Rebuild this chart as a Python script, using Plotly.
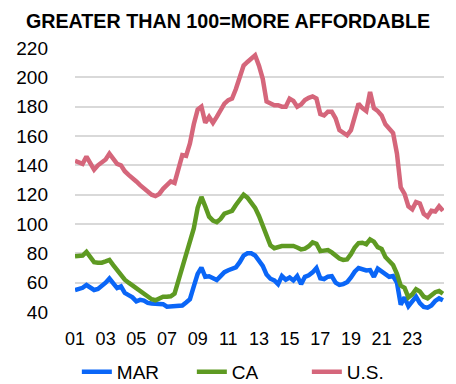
import pandas as pd
import plotly.graph_objects as go

# Quarterly housing affordability index, 2001 Q1 - 2025 Q1
quarters = pd.date_range("2001-01-01", periods=97, freq="QS")

mar = [55, 55.5, 56.5, 58.4, 57, 55, 55.7, 57.4, 60, 62.8,
       59.5, 56.3, 57.5, 53, 51.5, 50, 47.3, 48.3, 47.8, 46.2,
       45.8, 45.5, 45.8, 45.3, 43.6, 43.8, 44, 44, 44.4, 46.5,
       48.7, 57.5, 66, 70.3, 64, 64.4, 63.3, 61.8, 64.5, 67.2,
       68.5, 69.8, 70.5, 74, 78.5, 80, 80, 78.5, 75.5, 71.5,
       65.5, 62.7, 61.5, 59, 64.5, 62, 63.5, 61.5, 64.5, 59,
       64, 65, 67, 70, 63, 62.5, 64.1, 64.4, 60, 58.5,
       59, 60.3, 63.5, 67.5, 70, 69.5, 68.3, 68.6, 64, 69.5,
       67.5, 65.3, 64, 64.5, 60, 45, 50, 44, 47, 50.5,
       46, 43.5, 43, 44.5, 47.5, 49.3, 48]

ca = [78, 78, 78.5, 81, 77, 74, 73.6, 73.6, 74.5, 75.5,
      72, 68.5, 65.5, 62, 60, 58, 56.5, 55, 53, 51,
      48.7, 48, 49, 50.4, 50.4, 50.7, 52.5, 61, 70, 78,
      86.8, 97, 111, 118.5, 112, 105, 102.3, 101.2, 103.5, 107,
      108, 109, 113, 116.5, 120, 118, 114.5, 111, 105.5, 99.5,
      92, 85.5, 83.5, 84.5, 85, 85, 85, 85, 84, 82.7,
      83.2, 84.8, 87.5, 86.5, 81.5, 81.5, 82.2, 80.6, 78.4, 76.4,
      75.5, 75.9, 79.4, 84, 87, 87.2, 86.2, 89.5, 88, 84.2,
      83, 77.5, 74.8, 72, 66, 58, 56.5, 50, 52, 55.5,
      54, 50.5, 49.3, 51.5, 53.5, 54.3, 52.5]

us = [143, 142, 141, 146, 141, 137, 140, 142, 144, 148,
      144, 141, 140, 136, 133.5, 131.5, 129, 126.5, 124.5, 122,
      120, 119, 120.5, 124, 127, 129, 128, 138, 147, 146.5,
      155, 168, 178, 180, 169, 173, 169, 173, 178, 182,
      184.5, 185.5, 192, 201, 208, 210.5, 212.5, 215, 208, 199,
      183.5, 182, 181, 181, 180, 180, 185.5, 184, 180, 181.5,
      184.5, 186, 187, 185.5, 175, 174, 176.6, 176.6, 172, 164,
      162.5, 160.5, 164, 173, 182, 179, 177, 190, 179, 177,
      174, 168, 165.5, 162, 148, 125, 120.5, 112, 110, 115,
      114, 107, 105, 109, 108.5, 112, 109]

series = [("MAR", mar, "#0A66F7"), ("CA", ca, "#5E9A22"), ("U.S.", us, "#D5667B")]

tick_years = list(range(2001, 2024, 2))
tick_vals = [f"{y}-01-01" for y in tick_years]
tick_text = [f"{y % 100:02d}" for y in tick_years]

FONT = "Liberation Sans, Arial, sans-serif"

fig = go.Figure()
for name, vals, color in series:
    fig.add_trace(go.Scatter(
        x=quarters, y=vals, name=name, mode="lines",
        line=dict(color=color, width=4.5),
    ))

fig.update_layout(
    width=456, height=384,
    margin=dict(l=75, r=12, t=48, b=72, autoexpand=False),
    paper_bgcolor="white", plot_bgcolor="white",
    font=dict(family=FONT, color="#000000", size=19),
    title=dict(
        text="<b>GREATER THAN 100=MORE AFFORDABLE</b>",
        x=0.5, xref="container", xanchor="center",
        y=1 - 21.5 / 384, yref="container", yanchor="middle",
        font=dict(family=FONT, size=19.7, color="#000000"),
    ),
    showlegend=True,
    legend=dict(
        orientation="h", x=0.005, xanchor="left",
        y=12 / 384, yref="container", yanchor="middle",
        entrywidth=70, entrywidthmode="pixels",
        font=dict(family=FONT, size=19, color="#000000"),
        bgcolor="rgba(0,0,0,0)",
    ),
)

fig.update_xaxes(
    type="date",
    range=["2001-01-01", "2025-01-26"],
    tickvals=tick_vals, ticktext=tick_text,
    showgrid=False, zeroline=False, showline=False,
    ticks="", ticklabelstandoff=14,
    tickfont=dict(family=FONT, size=18, color="#000000"),
)
fig.update_yaxes(
    range=[40, 220], tickvals=list(range(40, 221, 20)),
    showgrid=True, gridcolor="#D9D9D9", gridwidth=1.5,
    zeroline=False, showline=False,
    ticks="", ticklabelstandoff=26,
    tickfont=dict(family=FONT, size=19, color="#000000"),
)

fig.write_html("out.html")
